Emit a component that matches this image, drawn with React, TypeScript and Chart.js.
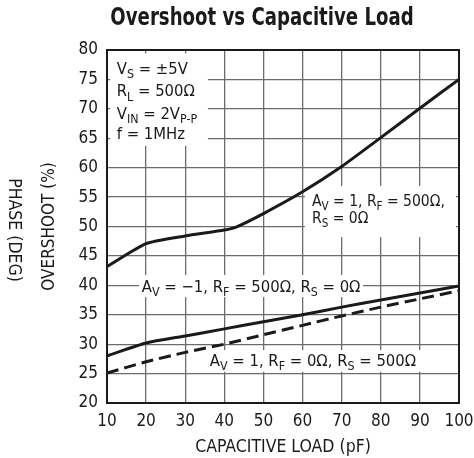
import React, { useEffect, useRef } from "react";
import { Chart, registerables } from "chart.js";

Chart.register(...registerables);

// ---- data ----
const loadsUpper = [10, 20, 30, 40, 43, 50, 60, 70, 80, 90, 100];
const overshootAv1Rf500 = [43.2, 47.1, 48.4, 49.4, 49.9, 52.2, 55.9, 60.2, 65.1, 70.1, 75.0];
const loads = [10, 20, 30, 40, 50, 60, 70, 80, 90, 100];
const overshootAvNeg1 = [28.0, 30.2, 31.4, 32.6, 33.8, 35.0, 36.3, 37.5, 38.7, 39.9];
const overshootAv1Rs500 = [25.1, 27.0, 28.6, 30.0, 31.6, 33.2, 34.8, 36.3, 37.7, 39.1];

const xMin = 10, xMax = 100, xStep = 10;
const yMin = 20, yMax = 80, yStep = 5;

const titleText = "Overshoot vs Capacitive Load";
const xTitle = "CAPACITIVE LOAD (pF)";
const yTitle = "OVERSHOOT (%)";
const yTitle2 = "PHASE (DEG)";

type Seg = { t: string; sub?: boolean };
const condLines: Seg[][] = [
  [{ t: "V" }, { t: "S", sub: true }, { t: " = ±5V" }],
  [{ t: "R" }, { t: "L", sub: true }, { t: " = 500Ω" }],
  [{ t: "V" }, { t: "IN", sub: true }, { t: " = 2V" }, { t: "P-P", sub: true }],
  [{ t: "f = 1MHz" }],
];
const labelAv1Rf500: Seg[][] = [
  [{ t: "A" }, { t: "V", sub: true }, { t: " = 1, R" }, { t: "F", sub: true }, { t: " = 500Ω," }],
  [{ t: "R" }, { t: "S", sub: true }, { t: " = 0Ω" }],
];
const labelAvNeg1: Seg[][] = [
  [{ t: "A" }, { t: "V", sub: true }, { t: " = −1, R" }, { t: "F", sub: true }, { t: " = 500Ω, R" }, { t: "S", sub: true }, { t: " = 0Ω" }],
];
const labelAv1Rs500: Seg[][] = [
  [{ t: "A" }, { t: "V", sub: true }, { t: " = 1, R" }, { t: "F", sub: true }, { t: " = 0Ω, R" }, { t: "S", sub: true }, { t: " = 500Ω" }],
];

const FONT = '"Liberation Sans Narrow", "Arial Narrow", "DejaVu Sans Condensed", sans-serif';
const INK = "#1a1a1a";
const GRID = "#6c6c6c";

function drawRich(ctx: CanvasRenderingContext2D, segs: Seg[], x: number, y: number, size: number) {
  let cx = x;
  for (const s of segs) {
    const fs = s.sub ? size * 0.75 : size;
    ctx.font = `${fs}px ${FONT}`;
    ctx.fillText(s.t, cx, s.sub ? y + size * 0.25 : y);
    cx += ctx.measureText(s.t).width;
  }
}

// annotation placement, in data units: box [x0, x1, yTop, yBottom], text x, baselines
const annotations = [
  { lines: condLines, box: [10.8, 35.8, 79.4, 63.7], tx: 12.5, ty: [75.9, 72.1, 68.3, 64.9], size: 16.5 },
  { lines: labelAv1Rf500, box: [60.6, 99.2, 56.9, 48.2], tx: 62.4, ty: [53.4, 50.6], size: 15.5 },
  { lines: labelAvNeg1, box: [18.2, 75.5, 41.75, 38.0], tx: 18.9, ty: [38.9], size: 16.5 },
  { lines: labelAv1Rs500, box: [35.5, 90.5, 29.0, 25.3], tx: 36.3, ty: [26.3], size: 16.5 },
];

const decor = {
  id: "decor",
  beforeDatasetsDraw(chart: any) {
    const { ctx, scales } = chart;
    const x = scales.x, y = scales.y;
    ctx.save();
    ctx.textBaseline = "alphabetic";
    ctx.textAlign = "left";
    for (const a of annotations) {
      const l = x.getPixelForValue(a.box[0]);
      const r = x.getPixelForValue(a.box[1]);
      const t = y.getPixelForValue(a.box[2]);
      const b = y.getPixelForValue(a.box[3]);
      ctx.fillStyle = "#ffffff";
      ctx.fillRect(l, t, r - l, b - t);
      ctx.fillStyle = INK;
      a.lines.forEach((segs, i) => {
        drawRich(ctx, segs, x.getPixelForValue(a.tx), y.getPixelForValue(a.ty[i]), a.size);
      });
    }
    ctx.restore();
  },
  afterDraw(chart: any) {
    const { ctx, chartArea } = chart;
    const { left, right, top, bottom } = chartArea;
    ctx.save();
    ctx.strokeStyle = INK;
    ctx.lineWidth = 2;
    ctx.strokeRect(left, top, right - left, bottom - top);

    ctx.fillStyle = INK;
    ctx.textAlign = "center";
    ctx.textBaseline = "middle";

    ctx.save();
    ctx.translate(262, 19);
    ctx.scale(0.84, 1);
    ctx.font = `bold 24px ${FONT}`;
    ctx.fillText(titleText, 0, 0);
    ctx.restore();

    ctx.font = `17.5px ${FONT}`;
    ctx.fillText(xTitle, (left + right) / 2, 447);

    ctx.save();
    ctx.translate(50, (top + bottom) / 2);
    ctx.rotate(-Math.PI / 2);
    ctx.font = `17px ${FONT}`;
    ctx.fillText(yTitle, 0, 0);
    ctx.restore();

    ctx.save();
    ctx.translate(14, 230);
    ctx.rotate(Math.PI / 2);
    ctx.font = `17.5px ${FONT}`;
    ctx.fillText(yTitle2, 0, 0);
    ctx.restore();

    ctx.restore();
  },
};

export default function App() {
  const ref = useRef<HTMLCanvasElement | null>(null);
  useEffect(() => {
    document.body.style.margin = "0";
    if (!ref.current) return;
    const chart = new Chart(ref.current, {
      type: "line",
      data: {
        datasets: [
          {
            data: loadsUpper.map((v, i) => ({ x: v, y: overshootAv1Rf500[i] })),
            borderColor: INK,
            borderWidth: 3,
            pointRadius: 0,
            tension: 0.2,
            fill: false,
          },
          {
            data: loads.map((v, i) => ({ x: v, y: overshootAvNeg1[i] })),
            borderColor: INK,
            borderWidth: 3,
            pointRadius: 0,
            tension: 0.25,
            fill: false,
          },
          {
            data: loads.map((v, i) => ({ x: v, y: overshootAv1Rs500[i] })),
            borderColor: INK,
            borderWidth: 3,
            borderDash: [12, 6],
            pointRadius: 0,
            tension: 0.25,
            fill: false,
          },
        ],
      },
      options: {
        animation: false,
        responsive: true,
        maintainAspectRatio: false,
        layout: { padding: { top: 50, right: 15, bottom: 0, left: 0 } },
        plugins: { legend: { display: false }, title: { display: false }, tooltip: { enabled: false } },
        scales: {
          x: {
            type: "linear",
            min: xMin,
            max: xMax,
            afterFit: (s: any) => { s.height = 55; s.paddingLeft = 0; s.paddingRight = 0; },
            ticks: { stepSize: xStep, color: INK, font: { family: FONT, size: 17 }, padding: 8, maxRotation: 0 },
            grid: { color: GRID, lineWidth: 1.3, drawTicks: false },
            border: { display: false },
          },
          y: {
            type: "linear",
            min: yMin,
            max: yMax,
            afterFit: (s: any) => { s.width = 107; s.paddingTop = 0; s.paddingBottom = 0; },
            ticks: { stepSize: yStep, color: INK, font: { family: FONT, size: 17 }, padding: 9 },
            grid: { color: GRID, lineWidth: 1.3, drawTicks: false },
            border: { display: false },
          },
        },
      },
      plugins: [decor],
    });
    return () => chart.destroy();
  }, []);
  return (
    <div style={{ position: "fixed", left: 0, top: 0, width: 474, height: 458, background: "#fff" }}>
      <canvas ref={ref} />
    </div>
  );
}
